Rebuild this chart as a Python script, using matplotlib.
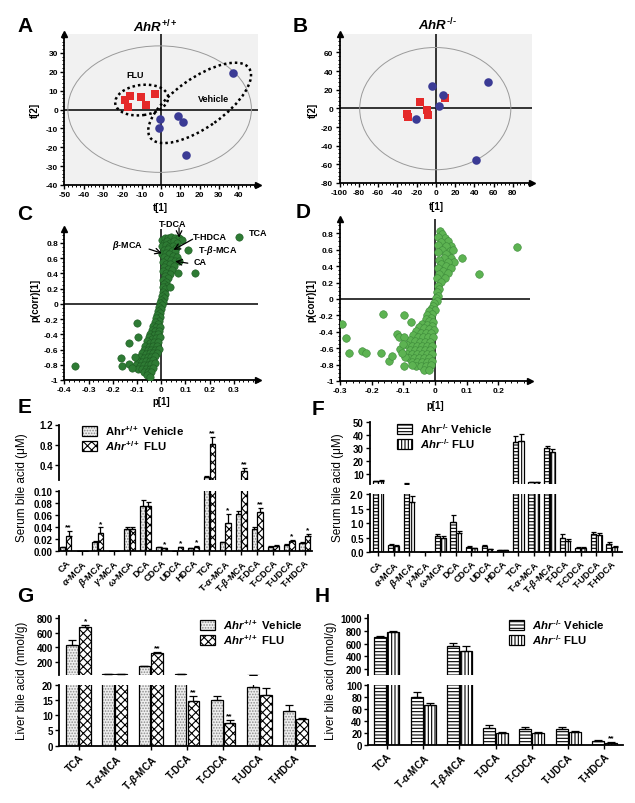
import numpy as np
import matplotlib
matplotlib.use('Agg')
import matplotlib.pyplot as plt
from matplotlib.patches import Ellipse, Patch
from matplotlib.ticker import AutoMinorLocator, FuncFormatter

plt.rcParams['font.family'] = ['Liberation Sans', 'DejaVu Sans']
plt.rcParams['font.weight'] = 'bold'
plt.rcParams['axes.unicode_minus'] = False
plt.rcParams['mathtext.fontset'] = 'custom'
plt.rcParams['mathtext.rm'] = 'Liberation Sans:bold'
plt.rcParams['mathtext.it'] = 'Liberation Sans:italic:bold'
plt.rcParams['mathtext.bf'] = 'Liberation Sans:bold'
plt.rcParams['hatch.linewidth'] = 0.8

# ---------------- data ----------------
# Panel A (AhR+/+ scores)
A_flu_t1 = [-18.6, -16.0, -17.2, -10.3, -7.9, -3.1]
A_flu_t2 = [4.8, 7.4, 1.3, 6.6, 2.5, 8.3]
A_veh_t1 = [-0.5, -0.9, 8.6, 11.5, 12.8, 37.4]
A_veh_t2 = [-4.9, -9.9, -3.5, -6.7, -24.0, 19.5]
# Panel B (AhR-/- scores)
B_veh_t1 = [-4.2, 7.9, 3.7, -20.5, 54.0, 41.9]
B_veh_t2 = [23.6, 14.3, 2.8, -11.5, 28.5, -55.4]
B_flu_t1 = [-16.3, -9.4, -7.7, -30.1, -28.4, 9.7]
B_flu_t2 = [7.1, -1.5, -6.9, -6.1, -9.6, 11.0]

# Panel C S-plot (p[1], p(corr)[1])
C_pts = [
    (0.005, 0.84), (0.015, 0.86), (0.028, 0.87), (0.042, 0.88), (0.058, 0.87), (0.072, 0.86), (0.085, 0.84),
    (0.01, 0.80), (0.024, 0.82), (0.038, 0.80), (0.052, 0.82), (0.066, 0.80), (0.005, 0.76), (0.02, 0.77),
    (0.034, 0.75), (0.048, 0.76), (0.062, 0.74), (0.012, 0.71), (0.028, 0.72), (0.044, 0.70), (0.058, 0.68),
    (0.004, 0.66), (0.018, 0.67), (0.034, 0.65), (0.05, 0.63), (0.066, 0.62), (0.01, 0.61), (0.026, 0.59),
    (0.042, 0.58), (0.058, 0.56), (0.075, 0.57), (0.006, 0.55), (0.02, 0.53), (0.036, 0.52), (0.052, 0.50),
    (0.012, 0.48), (0.028, 0.46), (0.044, 0.45), (0.008, 0.43), (0.022, 0.41), (0.036, 0.39), (0.014, 0.37),
    (0.028, 0.34), (0.008, 0.32), (0.02, 0.29), (0.012, 0.26), (0.024, 0.24), (0.006, 0.22), (0.016, 0.19),
    (0.008, 0.16), (0.014, 0.13), (0.002, 0.11), (0.01, 0.08), (0.0, 0.05), (0.008, 0.03), (-0.004, 0.01),
    (0.004, -0.02), (-0.008, -0.04), (0.0, -0.07), (-0.012, -0.09), (-0.004, -0.12), (-0.016, -0.14),
    (-0.006, -0.17), (-0.02, -0.19), (-0.01, -0.22), (-0.026, -0.24), (-0.014, -0.27), (-0.032, -0.29),
    (-0.02, -0.31), (-0.006, -0.30), (-0.038, -0.34), (-0.024, -0.36), (-0.01, -0.35), (-0.044, -0.39),
    (-0.03, -0.41), (-0.014, -0.40), (-0.05, -0.44), (-0.036, -0.46), (-0.02, -0.45), (-0.006, -0.44),
    (-0.06, -0.49), (-0.044, -0.51), (-0.028, -0.50), (-0.012, -0.50), (-0.066, -0.55), (-0.05, -0.56),
    (-0.034, -0.55), (-0.018, -0.55), (-0.072, -0.60), (-0.056, -0.61), (-0.04, -0.60), (-0.024, -0.60),
    (-0.008, -0.59), (-0.08, -0.65), (-0.064, -0.66), (-0.048, -0.65), (-0.032, -0.65), (-0.016, -0.64),
    (-0.088, -0.70), (-0.072, -0.71), (-0.056, -0.70), (-0.04, -0.70), (-0.024, -0.69), (-0.096, -0.75),
    (-0.08, -0.76), (-0.064, -0.75), (-0.048, -0.75), (-0.032, -0.74), (-0.104, -0.80), (-0.088, -0.81),
    (-0.072, -0.80), (-0.056, -0.80), (-0.04, -0.79), (-0.024, -0.78), (-0.096, -0.85), (-0.08, -0.86),
    (-0.064, -0.85), (-0.048, -0.85), (-0.032, -0.84), (-0.072, -0.90), (-0.056, -0.90), (-0.04, -0.89),
    (-0.06, -0.94), (-0.046, -0.96),
    (0.323, 0.876), (0.110, 0.71), (0.069, 0.40), (0.138, 0.40), (0.037, 0.22), (-0.10, -0.25),
    (-0.131, -0.52), (-0.167, -0.71), (-0.161, -0.82), (-0.131, -0.79), (-0.094, -0.44), (-0.356, -0.81),
    (-0.12, -0.84), (-0.108, -0.70),
]
# Panel D S-plot
D_pts = [
    (0.016, 0.83), (0.022, 0.79), (0.03, 0.74), (0.01, 0.76), (0.04, 0.70), (0.05, 0.65), (0.02, 0.69),
    (0.034, 0.64), (0.008, 0.66), (0.046, 0.58), (0.056, 0.60), (0.022, 0.60), (0.01, 0.57), (0.036, 0.55),
    (0.05, 0.50), (0.06, 0.45), (0.028, 0.50), (0.014, 0.48), (0.042, 0.45), (0.02, 0.42), (0.034, 0.40),
    (0.05, 0.38), (0.008, 0.38), (0.026, 0.34), (0.04, 0.31), (0.014, 0.30), (0.03, 0.26), (0.006, 0.25),
    (0.018, 0.21), (0.01, 0.16), (0.014, 0.12), (0.006, 0.08), (0.01, 0.04), (0.002, 0.01), (0.006, -0.03),
    (-0.002, -0.05), (-0.006, -0.09), (-0.012, -0.12), (0.0, -0.14), (-0.018, -0.15), (-0.008, -0.18),
    (-0.026, -0.2), (-0.012, -0.23),
    (-0.03, -0.25), (-0.018, -0.27), (-0.006, -0.28), (-0.04, -0.30), (-0.024, -0.32), (-0.01, -0.33),
    (-0.05, -0.34), (-0.034, -0.36), (-0.018, -0.37), (-0.004, -0.38), (-0.06, -0.39), (-0.044, -0.41),
    (-0.028, -0.42), (-0.012, -0.42), (-0.07, -0.44), (-0.054, -0.46), (-0.038, -0.47), (-0.022, -0.47),
    (-0.006, -0.47), (-0.08, -0.50), (-0.064, -0.51), (-0.048, -0.52), (-0.032, -0.52), (-0.016, -0.52),
    (-0.088, -0.56), (-0.072, -0.57), (-0.056, -0.57), (-0.04, -0.57), (-0.024, -0.57), (-0.008, -0.57),
    (-0.08, -0.62), (-0.064, -0.62), (-0.048, -0.62), (-0.032, -0.62), (-0.016, -0.62), (-0.09, -0.67),
    (-0.072, -0.67), (-0.056, -0.67), (-0.04, -0.67), (-0.024, -0.67), (-0.008, -0.67), (-0.082, -0.72),
    (-0.066, -0.72), (-0.05, -0.72), (-0.034, -0.72), (-0.018, -0.72), (-0.074, -0.77), (-0.058, -0.77),
    (-0.042, -0.77), (-0.026, -0.77), (-0.01, -0.76), (-0.06, -0.82), (-0.044, -0.82), (-0.028, -0.82),
    (-0.014, -0.81), (-0.034, -0.86), (-0.018, -0.86),
    (0.258, 0.63), (0.084, 0.50), (0.14, 0.30), (-0.294, -0.31), (-0.282, -0.48), (-0.271, -0.66),
    (-0.231, -0.64), (-0.219, -0.66), (-0.170, -0.66), (-0.165, -0.18), (-0.144, -0.76), (-0.137, -0.69),
    (-0.097, -0.20), (-0.099, -0.82), (-0.121, -0.43), (-0.115, -0.47), (-0.097, -0.47), (-0.110, -0.61),
    (-0.076, -0.28), (-0.095, -0.71), (-0.074, -0.80), (-0.1, -0.55), (-0.105, -0.66),
]
C_p1, C_pcorr = zip(*C_pts)
D_p1, D_pcorr = zip(*D_pts)

# Serum bile acids (E: Ahr+/+, F: Ahr-/-)
serum_cats = ['CA', r'$\alpha$-MCA', r'$\beta$-MCA', r'$\gamma$-MCA', r'$\omega$-MCA', 'DCA', 'CDCA',
              'UDCA', 'HDCA', 'TCA', r'T-$\alpha$-MCA', r'T-$\beta$-MCA', 'T-DCA', 'T-CDCA', 'T-UDCA', 'T-HDCA']
E_veh = [0.007, 0.001, 0.015, 0.0005, 0.037, 0.076, 0.0067, 0.001, 0.0055, 0.16, 0.015, 0.062, 0.037, 0.008, 0.0105, 0.014]
E_veh_err = [0.001, 0.0003, 0.002, 0.0002, 0.003, 0.009, 0.0008, 0.0003, 0.0008, 0.01, 0.001, 0.006, 0.003, 0.001, 0.001, 0.001]
E_flu = [0.025, 0.001, 0.031, 0.0005, 0.037, 0.076, 0.005, 0.007, 0.008, 0.81, 0.048, 0.27, 0.065, 0.0095, 0.0167, 0.025]
E_flu_err = [0.009, 0.0003, 0.009, 0.0002, 0.004, 0.007, 0.001, 0.001, 0.001, 0.15, 0.014, 0.07, 0.008, 0.001, 0.0023, 0.004]
E_stars = ['**', '', '*', '', '', '', '*', '*', '*', '**', '*', '**', '**', '', '*', '*']

F_veh = [4.0, 0.26, 2.3, 0.01, 0.55, 1.03, 0.17, 0.2, 0.08, 34.5, 3.6, 29.8, 0.48, 0.15, 0.63, 0.29]
F_veh_err = [0.6, 0.04, 0.6, 0.005, 0.07, 0.24, 0.04, 0.04, 0.01, 4.5, 0.3, 1.9, 0.14, 0.02, 0.06, 0.05]
F_flu = [4.5, 0.23, 1.74, 0.01, 0.49, 0.65, 0.14, 0.11, 0.08, 35.8, 3.6, 26.7, 0.4, 0.16, 0.6, 0.19]
F_flu_err = [0.6, 0.03, 0.18, 0.005, 0.06, 0.09, 0.02, 0.02, 0.01, 5.2, 0.3, 2.2, 0.04, 0.02, 0.05, 0.04]
F_stars = [''] * 16

# Liver bile acids (G: Ahr+/+, H: Ahr-/-)
liver_cats = ['TCA', r'T-$\alpha$-MCA', r'T-$\beta$-MCA', 'T-DCA', 'T-CDCA', 'T-UDCA', 'T-HDCA']
G_veh = [430, 29, 135, 29, 15.0, 19.3, 11.3]
G_veh_err = [70, 0, 8, 0, 1.4, 1.5, 2.0]
G_flu = [675, 29, 315, 14.5, 7.3, 16.7, 8.7]
G_flu_err = [32, 0, 23, 1.9, 1.1, 2.1, 0.5]
G_stars = ['*', '', '**', '**', '**', '', '']

H_veh = [700, 79.4, 555, 27.8, 26.7, 26.7, 7.2]
H_veh_err = [26, 9.5, 55, 5, 3.8, 2.7, 1.2]
H_flu = [779, 66.7, 475, 19.4, 20, 21, 3.3]
H_flu_err = [26, 2.7, 80, 1.6, 2, 1.6, 1.5]
H_stars = ['', '', '', '', '', '', '**']

# ---------------- figure ----------------
W, H = 635, 804
fig = plt.figure(figsize=(W / 100, H / 100), dpi=100)


def add_ax(x0, y0, x1, y1):
    return fig.add_axes([x0 / W, 1 - y1 / H, (x1 - x0) / W, (y1 - y0) / H])


def ftext(x, y, s, **kw):
    fig.text(x / W, 1 - y / H, s, **kw)


def fmt(v, p):
    if abs(v) < 1e-9:
        return '0'
    return f'{round(v, 6):g}'


def score_style(ax, xlim, ylim, xticks, yticks, xminor, yminor):
    ax.set_xlim(xlim)
    ax.set_ylim(ylim)
    ax.set_xticks(xticks)
    ax.set_yticks(yticks)
    ax.xaxis.set_major_formatter(FuncFormatter(fmt))
    ax.yaxis.set_major_formatter(FuncFormatter(fmt))
    ax.xaxis.set_minor_locator(AutoMinorLocator(xminor))
    ax.yaxis.set_minor_locator(AutoMinorLocator(yminor))
    for s in ['top', 'right']:
        ax.spines[s].set_visible(False)
    for s in ['left', 'bottom']:
        ax.spines[s].set_linewidth(1.3)
    ax.tick_params(which='major', length=3, width=1, labelsize=6, pad=1.5)
    ax.tick_params(which='minor', length=1.5, width=0.7)
    ax.plot(0, 1, marker='^', color='k', ms=5, transform=ax.transAxes, clip_on=False)
    ax.plot(1, 0, marker='>', color='k', ms=5, transform=ax.transAxes, clip_on=False)
    ax.axhline(0, color='k', lw=1.1, zorder=1)
    ax.axvline(0, color='k', lw=1.1, zorder=1)


red = '#e52a2a'
blue = '#3b3b95'

# Panel A
axA = add_ax(64.4, 35, 257.6, 186)
axA.set_facecolor('#f1f1f1')
score_style(axA, (-50, 50), (-40, 40), range(-50, 41, 10), range(-40, 31, 10), 5, 5)
axA.add_patch(Ellipse((-0.7, 0.2), 95, 67, fill=False, ec='#9a9a9a', lw=0.7))
axA.add_patch(Ellipse((-10, 5), 27.6, 16, angle=8, fill=False, ec='k', lw=1.8, ls=(0, (1, 1.2))))
axA.add_patch(Ellipse((20, 3.5), 63, 26, angle=36, fill=False, ec='k', lw=1.8, ls=(0, (1, 1.2))))
axA.scatter(A_flu_t1, A_flu_t2, marker='s', s=30, color=red, zorder=3, lw=0)
axA.scatter(A_veh_t1, A_veh_t2, marker='o', s=38, color=blue, zorder=3, lw=0)
axA.text(-13.4, 18.4, 'FLU', fontsize=6.5, ha='center', va='center')
axA.text(27, 6, 'Vehicle', fontsize=6.5, ha='center', va='center')

# Panel B
axB = add_ax(339.5, 34.7, 532, 184)
axB.set_facecolor('#f1f1f1')
score_style(axB, (-100, 100), (-80, 80), range(-100, 81, 20), range(-80, 61, 20), 5, 5)
axB.add_patch(Ellipse((-0.5, -0.3), 157, 131, fill=False, ec='#9a9a9a', lw=0.7))
axB.scatter(B_flu_t1, B_flu_t2, marker='s', s=30, color=red, zorder=3, lw=0)
axB.scatter(B_veh_t1, B_veh_t2, marker='o', s=38, color=blue, zorder=3, lw=0)

# Panel C
axC = add_ax(64.3, 230.3, 258, 381)
score_style(axC, (-0.4, 0.4), (-1, 0.98), np.round(np.arange(-0.4, 0.31, 0.1), 2),
            np.round(np.arange(-1, 0.81, 0.2), 2), 5, 4)
axC.scatter(C_p1, C_pcorr, s=28, color='#2e7b34', edgecolor='#1d5a22', lw=0.4, zorder=3)
tk = dict(fontsize=6.5, ha='center', va='center')
ap = dict(arrowstyle='->', lw=0.9, color='k', shrinkA=0, shrinkB=0)
axC.text(0.048, 1.06, 'T-DCA', clip_on=False, **tk)
axC.annotate('', xy=(0.074, 0.87), xytext=(0.074, 1.0), arrowprops=ap, annotation_clip=False)
axC.text(0.20, 0.885, 'T-HDCA', **tk)
axC.annotate('', xy=(0.051, 0.71), xytext=(0.13, 0.85), arrowprops=ap)
axC.text(0.235, 0.71, r'T-$\beta$-MCA', **tk)
axC.text(0.40, 0.94, 'TCA', clip_on=False, **tk)
axC.text(0.16, 0.556, 'CA', **tk)
axC.annotate('', xy=(0.058, 0.56), xytext=(0.11, 0.535), arrowprops=ap)
axC.text(-0.138, 0.775, r'$\beta$-MCA', **tk)
axC.annotate('', xy=(0.003, 0.665), xytext=(-0.05, 0.72), arrowprops=ap)

# Panel D
axD = add_ax(340, 219.9, 530, 382)
score_style(axD, (-0.3, 0.3), (-1, 0.975), np.round(np.arange(-0.3, 0.21, 0.1), 2),
            np.round(np.arange(-1, 0.81, 0.2), 2), 5, 4)
axD.scatter(D_p1, D_pcorr, s=30, color='#5db352', edgecolor='#3d8a3a', lw=0.4, zorder=3)

# score-plot labels
lab = dict(fontsize=7, ha='center', va='center')
ftext(35, 110, 't[2]', rotation=90, **lab)
ftext(160, 208, 't[1]', **lab)
ftext(313, 110, 't[2]', rotation=90, **lab)
ftext(436, 207, 't[1]', **lab)
ftext(35, 300, 'p(corr)[1]', rotation=90, **lab)
ftext(161, 402, 'p[1]', **lab)
ftext(311, 300, 'p(corr)[1]', rotation=90, **lab)
ftext(435, 406, 'p[1]', **lab)
ftext(155, 27, r'$\mathit{AhR}^{+/+}$', fontsize=9.5, ha='center', va='center')
ftext(437, 25, r'$\mathit{AhR}^{\text{-/-}}$', fontsize=9.5, ha='center', va='center')

# panel letters
for L, x, y in [('A', 25, 27), ('B', 300, 27), ('C', 25, 215), ('D', 303, 213),
                ('E', 25, 408), ('F', 318, 410), ('G', 25, 597), ('H', 322, 597)]:
    ftext(x, y, L, fontsize=15, ha='center', va='center')


# ---------------- bar panels ----------------
def draw_bars(ax, idx, x, veh, veh_err, flu, flu_err, kind, capsize, w, off):
    iv, iff = idx
    xv = x[iv] - off
    xf = x[iff] + off
    v = np.asarray(veh)[iv]
    ve = np.asarray(veh_err)[iv]
    f = np.asarray(flu)[iff]
    fe = np.asarray(flu_err)[iff]
    if kind == 'dots':
        ax.bar(xv, v, w, color='#efefef', edgecolor='#8c8c8c', hatch='......', lw=0)
        ax.bar(xv, v, w, fill=False, edgecolor='black', lw=0.9)
        ax.bar(xf, f, w, color='white', edgecolor='black', hatch='xxxx', lw=0.9)
    else:
        ax.bar(xv, v, w, color='white', edgecolor='black', hatch='-----', lw=0.9)
        ax.bar(xf, f, w, color='white', edgecolor='black', hatch='|||||', lw=0.9)
    ax.errorbar(xv, v, yerr=[np.zeros(len(v)), ve], fmt='none', ecolor='black', elinewidth=0.9,
                capsize=capsize, capthick=0.9)
    ax.errorbar(xf, f, yerr=[np.zeros(len(f)), fe], fmt='none', ecolor='black', elinewidth=0.9,
                capsize=capsize, capthick=0.9)


def bar_panel(box_t, box_b, ylim_t, ylim_b, yt_t, yt_b, fmt_t, fmt_b, cats, veh, veh_err, flu, flu_err,
              stars, kind, xlim, xfs, capsize, labels, leg_anchor, ylabel, ylab_pos):
    ax_t = add_ax(*box_t)
    ax_b = add_ax(*box_b)
    n = len(cats)
    x = np.arange(n)
    w, off = 0.33, 0.18
    all_idx = (np.arange(n), np.arange(n))
    top_idx = (np.array([i for i in range(n) if veh[i] + veh_err[i] > ylim_t[0]], dtype=int),
               np.array([i for i in range(n) if flu[i] + flu_err[i] > ylim_t[0]], dtype=int))
    draw_bars(ax_b, all_idx, x, veh, veh_err, flu, flu_err, kind, capsize, w, off)
    draw_bars(ax_t, top_idx, x, veh, veh_err, flu, flu_err, kind, capsize, w, off)
    for ax in (ax_t, ax_b):
        ax.set_xlim(xlim)
        for s in ['top', 'right']:
            ax.spines[s].set_visible(False)
        ax.spines['left'].set_linewidth(1.3)
        ax.spines['bottom'].set_linewidth(1.3)
        ax.tick_params(length=3, width=1, labelsize=7, pad=1.5)
    ax_t.set_ylim(ylim_t)
    ax_b.set_ylim(ylim_b)
    ax_t.spines['bottom'].set_visible(False)
    ax_t.set_xticks([])
    ax_t.set_yticks(yt_t)
    ax_t.set_yticklabels([fmt_t % v for v in yt_t])
    ax_b.set_yticks(yt_b)
    ax_b.set_yticklabels([fmt_b % v for v in yt_b])
    ax_b.set_xticks(x)
    ax_b.set_xticklabels(cats, rotation=45, ha='right', rotation_mode='anchor', fontsize=xfs)
    for i, st in enumerate(stars):
        if st:
            top = flu[i] + flu_err[i]
            ax = ax_t if top > ylim_b[1] else ax_b
            ax.annotate(st, xy=(i + off, top), xytext=(0, 0.3), textcoords='offset points',
                        ha='center', va='bottom', fontsize=6, annotation_clip=False)
    if kind == 'dots':
        h_veh = (Patch(facecolor='#efefef', edgecolor='#8c8c8c', hatch='......', lw=0),
                 Patch(fill=False, edgecolor='black', lw=0.9))
        h_flu = Patch(facecolor='white', edgecolor='black', hatch='xxxx', lw=0.9)
    else:
        h_veh = Patch(facecolor='white', edgecolor='black', hatch='-----', lw=0.9)
        h_flu = Patch(facecolor='white', edgecolor='black', hatch='|||||', lw=0.9)
    fig.legend([h_veh, h_flu], labels, loc='upper left',
               bbox_to_anchor=(leg_anchor[0] / W, 1 - leg_anchor[1] / H), borderaxespad=0, borderpad=0,
               handlelength=1.3, handleheight=0.95, handletextpad=0.7, labelspacing=0.12,
               fontsize=8.2, frameon=False)
    ftext(ylab_pos[0], ylab_pos[1], ylabel, rotation=90, ha='center', va='center', fontsize=8.5,
          weight='normal')
    return ax_t, ax_b


nE = len(serum_cats)
bar_panel((59, 425.5, 312, 481), (59, 492.3, 312, 552.3), (0.1, 1.2), (0, 0.1),
          [0.4, 0.8, 1.2], [0, 0.02, 0.04, 0.06, 0.08, 0.10], '%.1f', '%.2f',
          serum_cats, E_veh, E_veh_err, E_flu, E_flu_err, E_stars, 'dots', (-0.42, nE - 1 + 0.44), 6.6, 1.8,
          [r'Ahr$^{+/+}$ Vehicle', r'$\mathit{Ahr}^{+/+}$ FLU'], (82, 424), 'Serum bile acid (μM)', (22, 488))

bar_panel((370, 423.3, 621.7, 485), (370, 495, 621.7, 553.3), (2, 50), (0, 2),
          [10, 20, 30, 40, 50], [0, 0.5, 1.0, 1.5, 2.0], '%d', '%.1f',
          serum_cats, F_veh, F_veh_err, F_flu, F_flu_err, F_stars, 'lines', (-0.51, nE - 1 + 0.64), 6.6, 1.8,
          [r'Ahr$^{\text{-/-}}$ Vehicle', r'$\mathit{Ahr}^{\text{-/-}}$ FLU'], (397, 422),
          'Serum bile acid (μM)', (338, 488))

nG = len(liver_cats)
bar_panel((59, 617, 315, 675.8), (59, 685.7, 315, 746.7), (20, 830), (0, 20),
          [200, 400, 600, 800], [0, 5, 10, 15, 20], '%d', '%d',
          liver_cats, G_veh, G_veh_err, G_flu, G_flu_err, G_stars, 'dots', (-0.55, nG - 1 + 0.55), 7.2, 2.8,
          [r'$\mathit{Ahr}^{+/+}$ Vehicle', r'$\mathit{Ahr}^{+/+}$ FLU'], (200, 618), 'Liver bile acid (nmol/g)',
          (22, 681))

bar_panel((368.3, 616, 623.3, 676.3), (368.3, 686, 623.3, 746), (100, 1050), (0, 100),
          [200, 400, 600, 800, 1000], [0, 20, 40, 60, 80, 100], '%d', '%d',
          liver_cats, H_veh, H_veh_err, H_flu, H_flu_err, H_stars, 'lines', (-0.51, nG - 1 + 0.52), 7.2, 2.8,
          [r'$\mathit{Ahr}^{\text{-/-}}$ Vehicle', r'$\mathit{Ahr}^{\text{-/-}}$ FLU'], (509, 618),
          'Liver bile acid (nmol/g)', (331, 681))

fig.savefig('out.png', dpi=100)
